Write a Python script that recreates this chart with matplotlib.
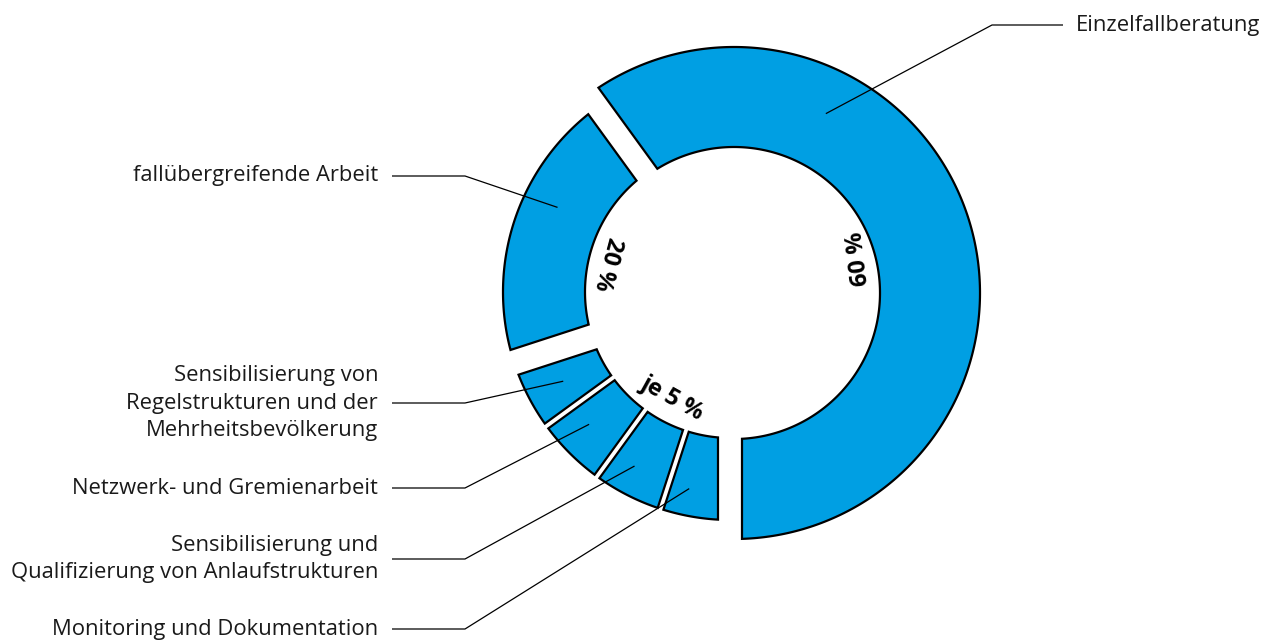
import numpy as np
import matplotlib
matplotlib.use("Agg")
import matplotlib.pyplot as plt
from matplotlib.patches import Polygon

# ---------------- data ----------------
categories = [
    "Einzelfallberatung",
    "fallübergreifende Arbeit",
    "Sensibilisierung von\nRegelstrukturen und der\nMehrheitsbevölkerung",
    "Netzwerk- und Gremienarbeit",
    "Sensibilisierung und\nQualifizierung von Anlaufstrukturen",
    "Monitoring und Dokumentation",
]
shares = [60, 20, 5, 5, 5, 5]
value_labels = ["60 %", "20 %", "je 5 %"]

# ---------------- layout ----------------
W, H = 1269, 642
cx, cy = 731, 292
r_in = 146
r_out = [246, 228, 228, 228, 228, 228]
piece_offset = [(3, 1), (0, 0), (0, 0), (0, 0), (0, 0), (0, 0)]
start_angle = -90          # 6 o'clock, counter-clockwise
# half gap (start side, end side) for each piece
half_gaps = [(8, 11), (11, 13), (13, 3), (3, 3), (3, 3), (3, 13)]
blue = "#009FE3"

plt.rcParams['font.family'] = ['Open Sans', 'DejaVu Sans']

fig = plt.figure(figsize=(W / 100, H / 100), dpi=100)
ax = fig.add_axes([0, 0, 1, 1])
ax.set_xlim(0, W)
ax.set_ylim(H, 0)
ax.axis('off')


def pt(r, phi):
    p = np.radians(phi)
    return cx + r * np.cos(p), cy - r * np.sin(p)


def piece(a1, a2, ri, ro, g1, g2, off):
    ox, oy = cx + off[0], cy + off[1]
    o1 = a1 + np.degrees(np.arcsin(g1 / ro))
    o2 = a2 - np.degrees(np.arcsin(g2 / ro))
    i1 = a1 + np.degrees(np.arcsin(g1 / ri))
    i2 = a2 - np.degrees(np.arcsin(g2 / ri))
    to = np.linspace(o1, o2, 300)
    ti = np.linspace(i2, i1, 300)
    xs = np.concatenate([ox + ro * np.cos(np.radians(to)), ox + ri * np.cos(np.radians(ti))])
    ys = np.concatenate([oy - ro * np.sin(np.radians(to)), oy - ri * np.sin(np.radians(ti))])
    return np.column_stack([xs, ys])


total = sum(shares)
bounds = start_angle + 360 * np.concatenate([[0], np.cumsum(shares)]) / total
for i in range(len(shares)):
    g1, g2 = half_gaps[i]
    poly = Polygon(piece(bounds[i], bounds[i + 1], r_in, r_out[i], g1, g2, piece_offset[i]),
                   closed=True, facecolor=blue, edgecolor="black", linewidth=1.6,
                   joinstyle='miter')
    ax.add_patch(poly)

# percentage labels inside the hole (radius, angle, rotation)
pct_pos = [(132, 14.5, 97), (127, 167, -105), (121, 241, -29)]
for txt, (r, phi, rot) in zip(value_labels, pct_pos):
    x, y = pt(r, phi)
    ax.text(x, y, txt, rotation=rot, rotation_mode='anchor', ha='center', va='center',
            fontsize=17, fontweight='bold', color='black')

# leader lines and category labels
# (text x, text y, horizontal-start x, bend x, end radius, end angle, side)
label_layout = [
    (1076, 25, 1063, 992, 202, 62, 'left'),
    (378, 176, 392, 465, 193, 154, 'right'),
    (378, 403, 392, 465, 190, 208, 'right'),
    (378, 488, 392, 465, 194, 223, 'right'),
    (378, 559, 392, 465, 199, 241, 'right'),
    (378, 629, 392, 465, 201, 258, 'right'),
]
for name, (tx, ty, hx, bx, er, ea, ha) in zip(categories, label_layout):
    ex, ey = pt(er, ea)
    ax.plot([hx, bx, ex], [ty, ty, ey], color='black', linewidth=0.9, solid_capstyle='butt')
    ax.text(tx, ty, name, ha=ha, va='center', fontsize=15.8, color='#1a1a1a',
            multialignment='right', linespacing=1.42)

fig.savefig("out.png", dpi=100)
